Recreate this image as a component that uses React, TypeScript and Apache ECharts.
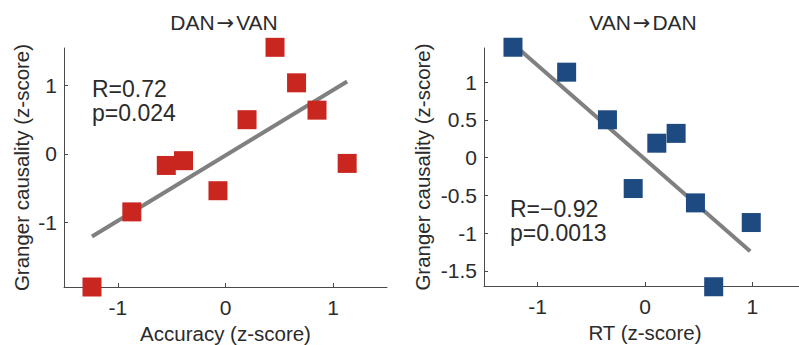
import React, { useEffect, useRef } from "react";
import * as echarts from "echarts";

// Left panel: DAN→VAN, Accuracy vs Granger causality
const leftX = [-1.24, -0.87, -0.55, -0.39, -0.07, 0.2, 0.46, 0.66, 0.85, 1.13];
const leftY = [-1.95, -0.85, -0.17, -0.1, -0.54, 0.5, 1.56, 1.04, 0.64, -0.14];
const leftFitX = [-1.24, 1.13];
const leftFitY = [-1.21, 1.06];
const leftXTicks = [-1, 0, 1];
const leftYTicks = [-1, 0, 1];

// Right panel: VAN→DAN, RT vs Granger causality
const rightX = [-1.23, -0.73, -0.35, 0.11, 0.29, -0.11, 0.47, 0.99, 0.64];
const rightY = [1.46, 1.13, 0.5, 0.19, 0.32, -0.41, -0.6, -0.86, -1.71];
const rightFitX = [-1.21, 0.98];
const rightFitY = [1.48, -1.24];
const rightXTicks = [-1, 0, 1];
const rightYTicks = [-1.5, -1, -0.5, 0, 0.5, 1];

const FONT = "Liberation Sans, Arial, sans-serif";
const TXT = "#2b2b2b";
const AX = "#4a4a4a";

function pairs(xs: number[], ys: number[]) {
  return xs.map((x, i) => [x, ys[i]]);
}

export default function App() {
  const ref = useRef<HTMLDivElement>(null);
  useEffect(() => {
    document.body.style.margin = "0";
    if (!ref.current) return;
    const chart = echarts.init(ref.current, null, { renderer: "svg" });
    const axisCommon = (ticks: number[], margin: number) => ({
      axisLine: { show: true, onZero: false, lineStyle: { color: AX, width: 1 } },
      axisTick: { show: true, inside: true, length: 4, customValues: ticks, lineStyle: { color: AX } },
      axisLabel: {
        customValues: ticks,
        color: TXT,
        fontSize: 21,
        fontFamily: FONT,
        margin,
        formatter: (v: number) => String(v),
      },
      splitLine: { show: false },
      nameTextStyle: { color: TXT, fontSize: 20.5, fontFamily: FONT },
      nameLocation: "middle" as const,
    });
    const titleStyle = {
      color: TXT,
      fontSize: 21,
      fontWeight: "normal",
      fontFamily: FONT,
      rich: { a: { fontFamily: "DejaVu Sans", fontSize: 21, color: TXT, padding: [0, 2, 0, 2] } },
    };
    chart.setOption({
      animation: false,
      grid: [
        { left: 64, top: 48, width: 323, height: 239, outerBoundsMode: "none", containLabel: false },
        { left: 484, top: 48, width: 322, height: 238, outerBoundsMode: "none", containLabel: false },
      ],
      xAxis: [
        { type: "value", gridIndex: 0, min: -1.5, max: 1.5, name: "Accuracy (z-score)", nameGap: 35, ...axisCommon(leftXTicks, 10) },
        { type: "value", gridIndex: 1, min: -1.5, max: 1.5, name: "RT (z-score)", nameGap: 35, ...axisCommon(rightXTicks, 10) },
      ],
      yAxis: [
        { type: "value", gridIndex: 0, min: -1.95, max: 1.55, name: "Granger causality (z-score)", nameGap: 32, ...axisCommon(leftYTicks, 7) },
        { type: "value", gridIndex: 1, min: -1.7, max: 1.45, name: "Granger causality (z-score)", nameGap: 51, ...axisCommon(rightYTicks, 7) },
      ],
      title: [
        { text: "DAN{a|→}VAN", left: 219, top: 7, textAlign: "center", textStyle: titleStyle },
        { text: "VAN{a|→}DAN", left: 638, top: 7, textAlign: "center", textStyle: titleStyle },
      ],
      graphic: [
        { type: "text", left: 92, top: 77, style: { text: "R=0.72\np=0.024", fill: TXT, fontSize: 23, lineHeight: 24, fontFamily: FONT } },
        { type: "text", left: 510, top: 197, style: { text: "R=\u22120.92\np=0.0013", fill: TXT, fontSize: 23, lineHeight: 24, fontFamily: FONT } },
      ],
      series: [
        {
          type: "line", xAxisIndex: 0, yAxisIndex: 0, data: pairs(leftFitX, leftFitY), symbol: "none",
          lineStyle: { color: "#808080", width: 4 }, z: 2, clip: false,
        },
        {
          type: "scatter", xAxisIndex: 0, yAxisIndex: 0, data: pairs(leftX, leftY), symbol: "rect", symbolSize: 19,
          itemStyle: { color: "#c9261f", opacity: 1 }, z: 3, clip: false,
        },
        {
          type: "line", xAxisIndex: 1, yAxisIndex: 1, data: pairs(rightFitX, rightFitY), symbol: "none",
          lineStyle: { color: "#808080", width: 4 }, z: 2, clip: false,
        },
        {
          type: "scatter", xAxisIndex: 1, yAxisIndex: 1, data: pairs(rightX, rightY), symbol: "rect", symbolSize: 19,
          itemStyle: { color: "#1d4a80", opacity: 1 }, z: 3, clip: false,
        },
      ],
    });
    return () => chart.dispose();
  }, []);
  return <div ref={ref} style={{ width: 799, height: 345 }} />;
}
